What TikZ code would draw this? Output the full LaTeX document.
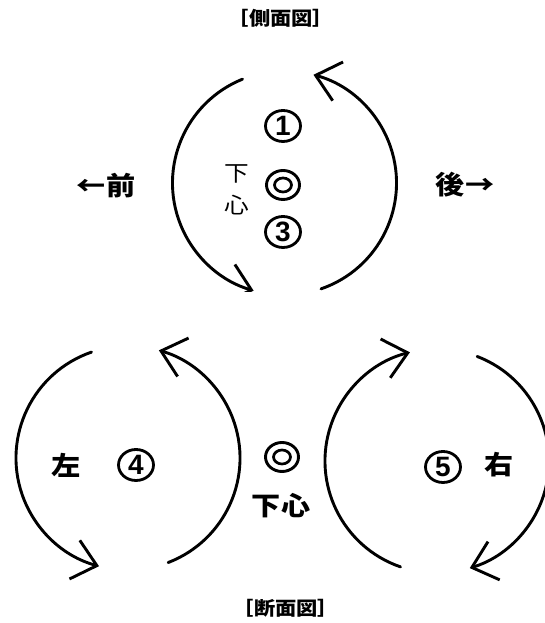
\documentclass[tikz,border=0pt]{standalone}
\usepackage{fontspec}
\setmainfont{Noto Sans CJK JP}
\newfontfamily\digitfont{Liberation Sans}
\usetikzlibrary{arrows.meta,shapes.geometric}
\tikzset{
  rot/.style={line width=2.9pt, line cap=round},
  tipped/.style={rot, -{Straight Barb[length=23pt,width=40pt,line width=2.9pt]}},
  lbl/.style={inner sep=0pt, font=\bfseries\fontsize{26}{26}\selectfont},
  num/.style={ellipse, draw, line width=2.8pt, minimum width=35pt, minimum height=31pt, inner sep=0pt,
     font=\digitfont\bfseries\fontsize{28}{28}\selectfont},
  dbl/.style={ellipse, draw, line width=2.9pt, minimum width=33pt, minimum height=29pt, inner sep=0pt},
  dblin/.style={ellipse, draw, line width=2.7pt, minimum width=17pt, minimum height=14pt, inner sep=0pt},
  thin/.style={inner sep=0pt, font=\fontsize{22}{22}\selectfont},
  ttl/.style={inner sep=0pt, font=\bfseries\fontsize{19}{19}\selectfont}
}
\newcommand{\wide}[1]{\scalebox{1.12}[1]{#1}}
\begin{document}
\begin{tikzpicture}[x=1pt,y=1pt]
\useasboundingbox (0,0) rectangle (545,623);
% centres
\coordinate (c1) at (284.5,440);
\coordinate (c2) at (128,165);
\coordinate (c3) at (437,162);
% top (side view)
\begin{scope}
\clip (0,331) rectangle (545,623);
\draw[tipped] ([shift={(112:112pt)}]c1) arc[start angle=112,end angle=254,radius=112pt];
\draw[tipped] ([shift={(-71:112pt)}]c1) arc[start angle=-71,end angle=75,radius=112pt];
\end{scope}
% bottom left
\draw[tipped] ([shift={(109:112pt)}]c2) arc[start angle=109,end angle=255,radius=112pt];
\draw[tipped] ([shift={(-69:112pt)}]c2) arc[start angle=-69,end angle=74,radius=112pt];
% bottom right
\begin{scope}
\clip (0,0) rectangle (545,623);
\draw[tipped] ([shift={(251:112pt)}]c3) arc[start angle=251,end angle=104,radius=112pt];
\draw[tipped] ([shift={(69:112pt)}]c3) arc[start angle=69,end angle=-73,radius=112pt];
\end{scope}
% texts
\node[ttl] (t1) at (281,605) {\wide{［側面図］}};
\node[num] (n1) at (283,497) {1};
\node[dbl] (d1) at (283,438) {};
\node[dblin] (d1i) at (283,438) {};
\node[num] (n3) at (283,391) {3};
\node[thin] (s1) at (237,449) {\wide{下}};
\node[thin] (s2) at (237,418) {\wide{心}};
\node[lbl] (fr) at (106,437) {\wide{←前}};
\node[lbl] (bk) at (465,438) {\wide{後→}};
\node[lbl] (lf) at (66,158) {\wide{左}};
\node[num] (n4) at (136,158) {4};
\node[dbl] (d2) at (282,166) {};
\node[dblin] (d2i) at (282,166) {};
\node[lbl] (s3) at (281,117) {\wide{下心}};
\node[num] (n5) at (443,156) {5};
\node[lbl] (rt) at (499,158) {\wide{右}};
\node[ttl] (t2) at (286,15) {\wide{［断面図］}};
\end{tikzpicture}
\end{document}
